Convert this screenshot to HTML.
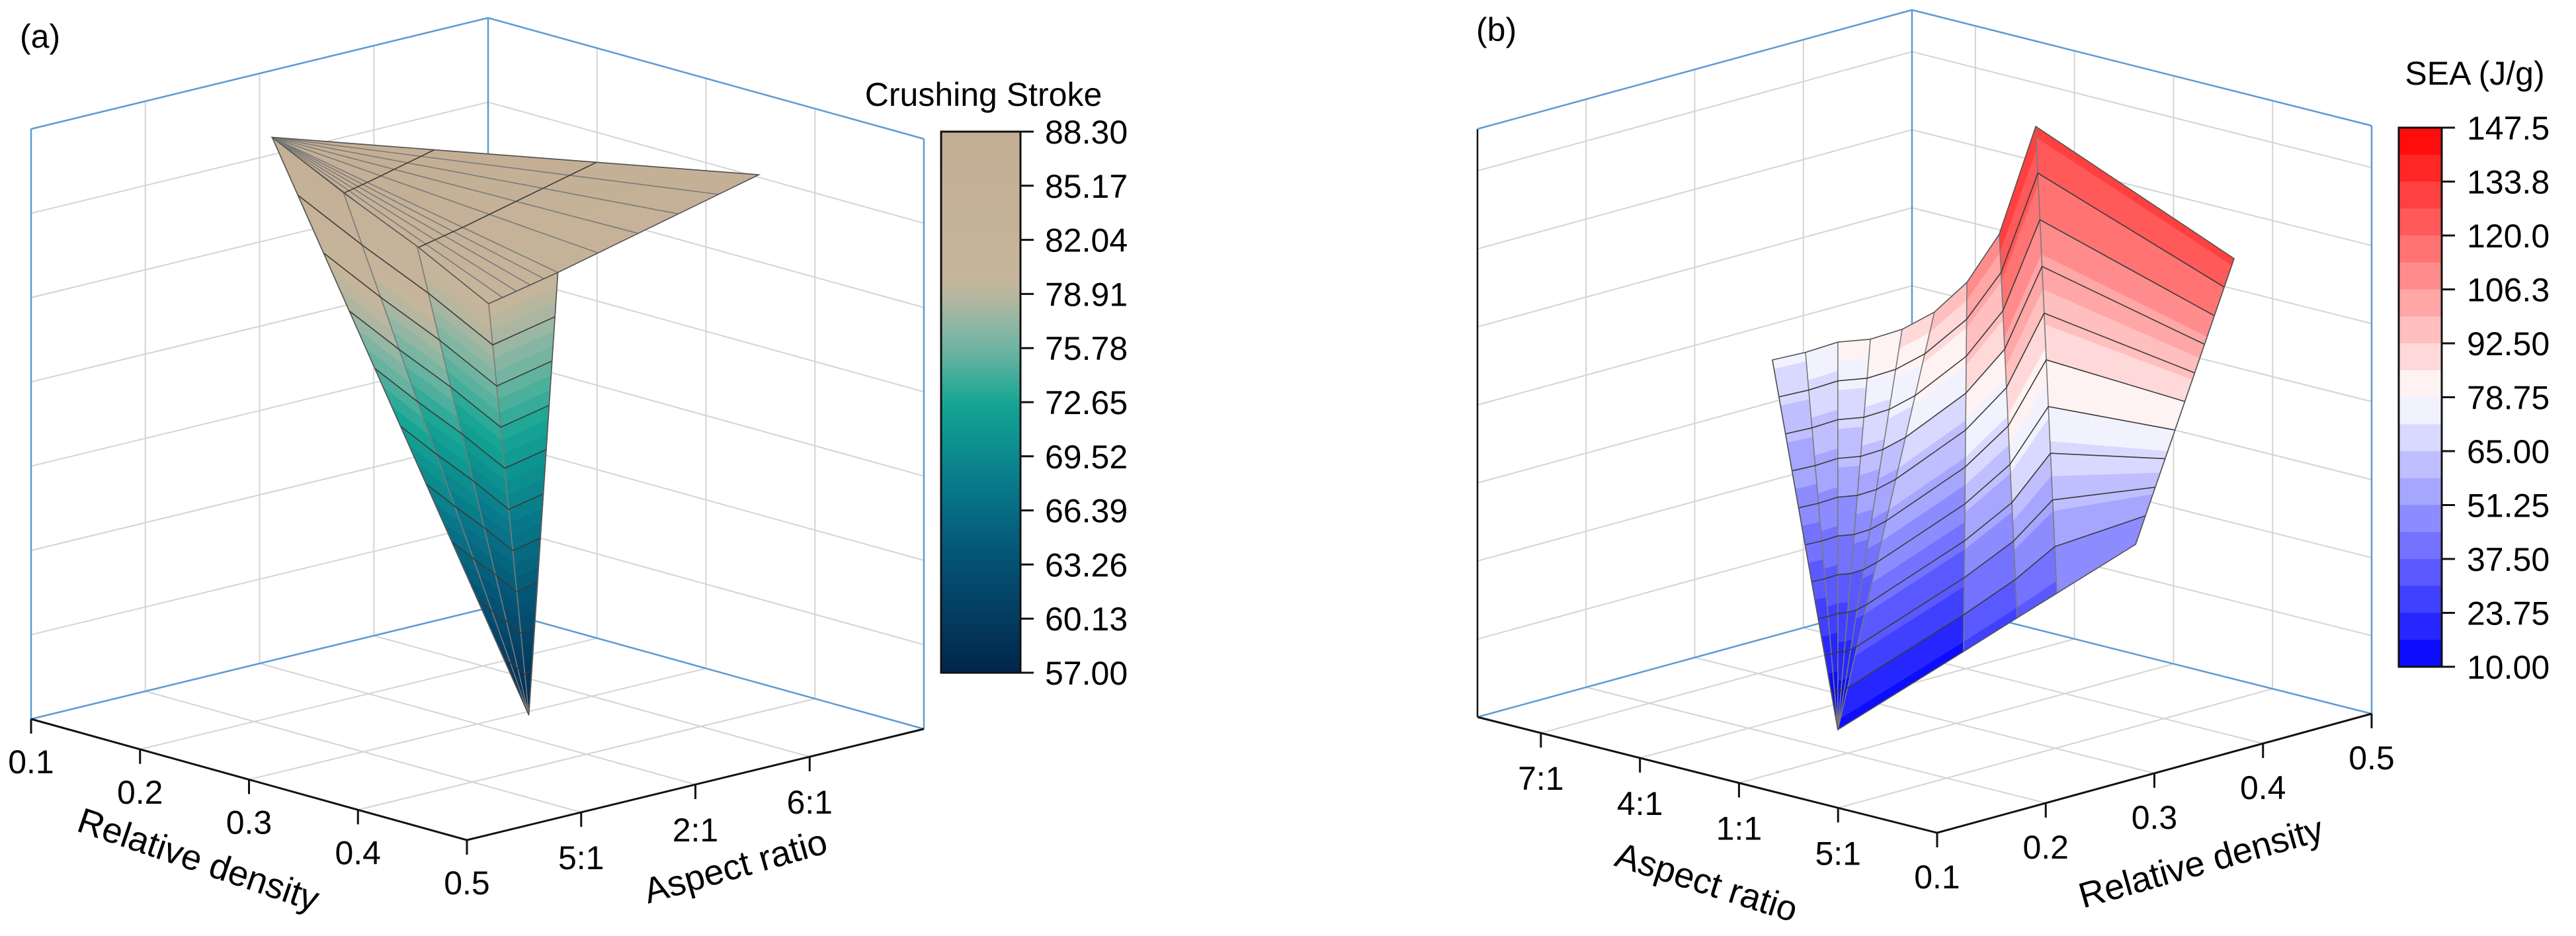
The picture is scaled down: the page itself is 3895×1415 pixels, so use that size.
<!DOCTYPE html>
<html><head><meta charset="utf-8"><style>
html,body{margin:0;padding:0;background:#fff;}
svg{display:block;font-family:"Liberation Sans",Arial,sans-serif;}
</style></head><body>
<svg id="fig" width="3895" height="1415" viewBox="0 0 3895 1415" xmlns="http://www.w3.org/2000/svg">
<defs>
<linearGradient id="gradA" x1="0" y1="0" x2="0" y2="1">
<stop offset="0" stop-color="#c4ae94"/><stop offset="0.27" stop-color="#c5b59b"/><stop offset="0.31" stop-color="#b3b6a0"/>
<stop offset="0.36" stop-color="#8db7a4"/><stop offset="0.42" stop-color="#5fb29f"/><stop offset="0.5" stop-color="#17a594"/>
<stop offset="0.56" stop-color="#0e9590"/><stop offset="0.66" stop-color="#08778a"/><stop offset="0.78" stop-color="#045676"/>
<stop offset="0.9" stop-color="#033b60"/><stop offset="1" stop-color="#02254a"/>
</linearGradient>
</defs>
<g id="panelA"></g>
<g id="panelB"></g>
<text x="30" y="72" font-size="50">(a)</text>
<text x="2232" y="62" font-size="50">(b)</text>
<text x="1487" y="160" font-size="50" text-anchor="middle">Crushing Stroke</text>
<text x="3742" y="128" font-size="50" text-anchor="middle">SEA (J/g)</text>
<text x="300" y="1318" font-size="54" text-anchor="middle" transform="rotate(18.8 300 1300)">Relative density</text>
<text x="1112" y="1328" font-size="54" text-anchor="middle" transform="rotate(-15.8 1112 1310)">Aspect ratio</text>
<text x="2580" y="1352" font-size="54" text-anchor="middle" transform="rotate(17.6 2580 1335)">Aspect ratio</text>
<text x="3328" y="1322" font-size="54" text-anchor="middle" transform="rotate(-15.8 3328 1304)">Relative density</text>
</svg>
<script>
// ---------- Panel (a) data ----------
const aRdTicks=[0.1,0.2,0.3,0.4,0.5];
const aArTicks=[1,2,3];
const aArLabels=['5:1','2:1','6:1'];
const aCbLabels=['88.30','85.17','82.04','78.91','75.78','72.65','69.52','66.39','63.26','60.13','57.00'];
const aApexRd=[0.208], aApexAr=[1.08], aApexZ=[88.0];
const aSheetRd=[0.426,0.336,0.305], aSheetAr=[3.26,2.36,2.05], aSheetZ=[86.3,81.0,79.3];
const aColRd=[0.208,0.240,0.273,0.305,0.336], aColAr=[1.08,1.40,1.73,2.05,2.36], aColZ=[88.0,85.1,82.3,79.3,81.0];
const aTipRd=[0.323], aTipAr=[2.23], aTipZ=[57.5];
// ---------- Panel (b) data ----------
const bRdTicks=[0.1,0.2,0.3,0.4,0.5];
const bArTicks=[1,2,3,4];
const bArLabels=['7:1','4:1','1:1','5:1'];
const bCbLabels=['147.5','133.8','120.0','106.3','92.50','78.75','65.00','51.25','37.50','23.75','10.00'];
const bTopRd=[0.3806,0.3778,0.3793,0.3682,0.3688,0.3826,0.3876,0.3334,0.3497,0.4385];
const bTopAr=[0.26,0.625,0.935,1.385,1.699,1.874,2.147,3.068,3.257,4.286];
const bTopZ=[72,76,80,84,88,92,100,120.0,144.6,114.2];
const bBotRd=[0.2612,0.2612,0.2612,0.2612,0.2612,0.2612,0.3175,0.3414,0.3592,0.3944];
const bBotAr=[2.230,2.230,2.230,2.230,2.230,2.230,2.882,3.161,3.366,3.775];
const bBotZ=[6.8,6.8,6.8,6.8,6.8,6.8,24.56,32.23,37.80,48.92];

const NS='http://www.w3.org/2000/svg';
function mk(parent,tag,attrs){const e=document.createElementNS(NS,tag);for(const k in attrs)e.setAttribute(k,attrs[k]);parent.appendChild(e);return e;}

function projA(rd,ar,z){const s=(rd-0.1)/0.4,t=ar/4,h=(z-57)/31.3;return [47+659*s+691*t,1087+183*s-168*t-892*h];}
function projB(rd,ar,z){const fr=(rd-0.1)/0.4,fa=(ar-0.36)/4.64,h=(z-10)/137.5;return [2234+695*fa+657*fr,1084+175*fa-180*fr-909*h];}

function hex2(v){v=Math.max(0,Math.min(255,Math.round(v)));return v.toString(16).padStart(2,'0');}
const aStops=[[0,[0xc4,0xae,0x94]],[0.27,[0xc5,0xb5,0x9b]],[0.31,[0xb3,0xb6,0xa0]],[0.36,[0x8d,0xb7,0xa4]],[0.42,[0x5f,0xb2,0x9f]],[0.5,[0x17,0xa5,0x94]],[0.56,[0x0e,0x95,0x90]],[0.66,[0x08,0x77,0x8a]],[0.78,[0x04,0x56,0x76]],[0.9,[0x03,0x3b,0x60]],[1,[0x02,0x25,0x4a]]];
function colA(z){let f=(88.3-z)/31.3;f=Math.max(0,Math.min(1,f));for(let i=1;i<aStops.length;i++){if(f<=aStops[i][0]){const a=aStops[i-1],b=aStops[i];const u=(f-a[0])/(b[0]-a[0]);return '#'+[0,1,2].map(k=>hex2(a[1][k]+(b[1][k]-a[1][k])*u)).join('');}}return '#02254a';}
function colB(z){let t=(z-10)/137.5;t=Math.max(0,Math.min(0.9999,t));const q=(Math.floor(t*20)+0.5)/20;if(q<0.5){const v=255*q*2;return '#'+hex2(v)+hex2(v)+'ff';}const v=255*(1-q)*2;return '#ff'+hex2(v)+hex2(v);}

function box(g,P,uT,vT,zMin,zMax,zLines,name,leftBlack){
  const gl=mk(g,'g',{});
  const L=(p,q,c,w)=>mk(gl,'line',{x1:p[0],y1:p[1],x2:q[0],y2:q[1],stroke:c,'stroke-width':w});
  const gc='#d4d4d4';
  zLines.forEach(z=>{L(P(0,0,z),P(1,0,z),gc,2);L(P(1,0,z),P(1,1,z),gc,2);});
  uT.forEach(u=>{L(P(u,0,zMin),P(u,0,zMax),gc,2);L(P(u,0,zMin),P(u,1,zMin),gc,2);});
  vT.forEach(v=>{L(P(1,v,zMin),P(1,v,zMax),gc,2);L(P(0,v,zMin),P(1,v,zMin),gc,2);});
  const bc='#5b9bd5';
  L(P(0,0,zMin),P(0,0,zMax),leftBlack?'#111':bc,2.5);
  L(P(1,0,zMin),P(1,0,zMax),bc,2.5);
  L(P(1,1,zMin),P(1,1,zMax),bc,2.5);
  L(P(0,0,zMax),P(1,0,zMax),bc,2.5);
  L(P(1,0,zMax),P(1,1,zMax),bc,2.5);
  L(P(0,0,zMin),P(1,0,zMin),bc,2.5);
  L(P(1,0,zMin),P(1,1,zMin),bc,2.5);
}

function lerp3(p,q,u){return [p[0]+(q[0]-p[0])*u,p[1]+(q[1]-p[1])*u,p[2]+(q[2]-p[2])*u];}
function meshColumns(g,proj,col,tops,bots,NR,ringEvery,name){
  const sg=mk(g,'g',{});
  const n=tops.length;
  for(let j=0;j<n-1;j++){for(let i=0;i<NR;i++){
    const u0=i/NR,u1=(i+1)/NR;
    const p=[lerp3(tops[j],bots[j],u0),lerp3(tops[j+1],bots[j+1],u0),lerp3(tops[j+1],bots[j+1],u1),lerp3(tops[j],bots[j],u1)];
    const zc=(p[0][2]+p[1][2]+p[2][2]+p[3][2])/4;const c=col(zc);
    const pts=p.map(d=>proj(d[0],d[1],d[2]).map(v=>v.toFixed(1)).join(',')).join(' ');
    const poly=mk(sg,'polygon',{points:pts,fill:c,stroke:c,'stroke-width':1.2});
    
    
  }}
  for(let j=0;j<n;j++){const a=proj(...tops[j]),b=proj(...bots[j]);mk(sg,'line',{x1:a[0],y1:a[1],x2:b[0],y2:b[1],stroke:'#7a7a7a','stroke-width':1.6});}
  for(let i=ringEvery;i<NR;i+=ringEvery){const u=i/NR;const pts=[];for(let j=0;j<n;j++)pts.push(proj(...lerp3(tops[j],bots[j],u)).map(v=>v.toFixed(1)).join(','));mk(sg,'polyline',{points:pts.join(' '),fill:'none',stroke:'#3a3a3a','stroke-width':1.6});}
  const outline=[];for(let j=0;j<n;j++)outline.push(proj(...tops[j]));for(let j=n-1;j>=0;j--)outline.push(proj(...bots[j]));
  mk(sg,'polygon',{points:outline.map(p=>p.map(v=>v.toFixed(1)).join(',')).join(' '),fill:'none',stroke:'#555','stroke-width':1.6});
}

// ---------- Panel A ----------
(function(){
  const g=document.getElementById('panelA');
  const zl=[];for(let k=1;k<7;k++)zl.push(57+31.3*k/7);
  const P=(u,v,z)=>projA(0.1+0.4*v,4*u,z);
  box(g,P,aArTicks.map(a=>a/4),aRdTicks.slice(1,-1).map(r=>(r-0.1)/0.4),57,88.3,zl,'panel-a',false);
  const apex=[aApexRd[0],aApexAr[0],aApexZ[0]];
  const edge=[];const NE=5;
  for(let k=0;k<aSheetRd.length-1;k++){for(let m=0;m<NE;m++){const u=m/NE;edge.push(lerp3([aSheetRd[k],aSheetAr[k],aSheetZ[k]],[aSheetRd[k+1],aSheetAr[k+1],aSheetZ[k+1]],u));}}
  const k=aSheetRd.length-1;edge.push([aSheetRd[k],aSheetAr[k],aSheetZ[k]]);
  meshColumns(g,projA,colA,edge.map(()=>apex),edge,6,2,'surface-top-sheet');
  const tops=aColRd.map((r,i)=>[r,aColAr[i],aColZ[i]]);
  const bots=aColRd.map(()=>[aTipRd[0],aTipAr[0],aTipZ[0]]);
  meshColumns(g,projA,colA,tops,bots,30,3,'surface-front-sheet');
  const p0=projA(0.1,0,57),p1=projA(0.5,0,57),p2=projA(0.5,4,57);
  const ax=mk(g,'polyline',{points:[p0,p1,p2].map(p=>p.join(',')).join(' '),fill:'none',stroke:'#111','stroke-width':3});
  
  aRdTicks.forEach(r=>{const p=projA(r,0,57);mk(g,'line',{x1:p[0],y1:p[1],x2:p[0],y2:p[1]+22,stroke:'#111','stroke-width':3});
    const t=mk(g,'text',{x:p[0],y:p[1]+82,'font-size':50,'text-anchor':'middle'});t.textContent=r.toFixed(1);
    
    });
  aArTicks.forEach((a,i)=>{const p=projA(0.5,a,57);mk(g,'line',{x1:p[0],y1:p[1],x2:p[0],y2:p[1]+22,stroke:'#111','stroke-width':3});
    const t=mk(g,'text',{x:p[0],y:p[1]+86,'font-size':50,'text-anchor':'middle'});t.textContent=aArLabels[i];
    
    });
  const cb=mk(g,'g',{});
  const X0=1423,X1=1543,Y0=199,Y1=1017;
  mk(cb,'rect',{x:X0,y:Y0,width:X1-X0,height:Y1-Y0,fill:'url(#gradA)',stroke:'#111','stroke-width':3});
  aCbLabels.forEach((l,i)=>{const y=Y0+(Y1-Y0)*i/(aCbLabels.length-1);mk(cb,'line',{x1:X1,y1:y,x2:X1+20,y2:y,stroke:'#111','stroke-width':3});
    const t=mk(cb,'text',{x:1580,y:y+18,'font-size':50});t.textContent=l;
    
    });
})();

// ---------- Panel B ----------
(function(){
  const g=document.getElementById('panelB');
  const zTop=10+137.5*889/909;
  const zl=[];for(let k=1;k<8;k++)zl.push(10+(zTop-10)*k*0.1327);
  const P=(u,v,z)=>projB(0.1+0.4*u,0.36+4.64*v,z);
  box(g,P,bRdTicks.slice(1,-1).map(r=>(r-0.1)/0.4),bArTicks.map(a=>(a-0.36)/4.64),10,zTop,zl,'panel-b',true);
  const tops=bTopRd.map((r,i)=>[r,bTopAr[i],bTopZ[i]]);
  const bots=bBotRd.map((r,i)=>[r,bBotAr[i],bBotZ[i]]);
  meshColumns(g,projB,colB,tops,bots,40,4,'surface-sea');
  const p0=projB(0.1,0.36,10),p1=projB(0.1,5,10),p2=projB(0.5,5,10);
  const ax=mk(g,'polyline',{points:[p0,p1,p2].map(p=>p.join(',')).join(' '),fill:'none',stroke:'#111','stroke-width':3});
  
  bArTicks.forEach((a,i)=>{const p=projB(0.1,a,10);mk(g,'line',{x1:p[0],y1:p[1],x2:p[0],y2:p[1]+22,stroke:'#111','stroke-width':3});
    const t=mk(g,'text',{x:p[0],y:p[1]+86,'font-size':50,'text-anchor':'middle'});t.textContent=bArLabels[i];
    
    });
  bRdTicks.forEach(r=>{const p=projB(r,5,10);mk(g,'line',{x1:p[0],y1:p[1],x2:p[0],y2:p[1]+22,stroke:'#111','stroke-width':3});
    const t=mk(g,'text',{x:p[0],y:p[1]+84,'font-size':50,'text-anchor':'middle'});t.textContent=r.toFixed(1);
    
    });
  const cb=mk(g,'g',{});
  const X0=3627,X1=3692,Y0=193,Y1=1008,NB=20;
  for(let i=0;i<NB;i++){const z=147.5-(i+0.5)*137.5/NB;mk(cb,'rect',{x:X0,y:Y0+(Y1-Y0)*i/NB,width:X1-X0,height:(Y1-Y0)/NB+0.8,fill:colB(z)});}
  mk(cb,'rect',{x:X0,y:Y0,width:X1-X0,height:Y1-Y0,fill:'none',stroke:'#111','stroke-width':3});
  bCbLabels.forEach((l,i)=>{const y=Y0+(Y1-Y0)*i/(bCbLabels.length-1);mk(cb,'line',{x1:X1,y1:y,x2:X1+20,y2:y,stroke:'#111','stroke-width':3});
    const t=mk(cb,'text',{x:3730,y:y+18,'font-size':50});t.textContent=l;
    
    });
})();
</script>
</body></html>
